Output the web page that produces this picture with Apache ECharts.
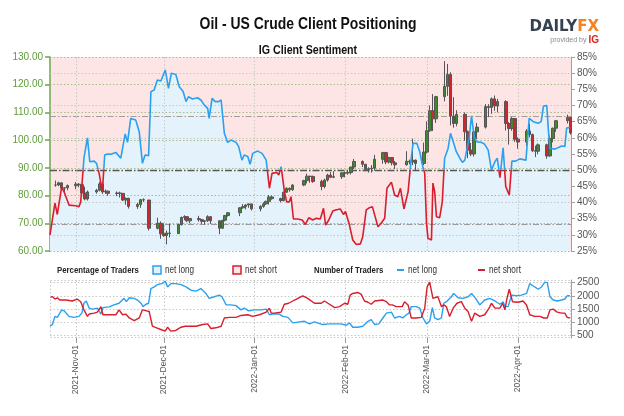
<!DOCTYPE html>
<html><head><meta charset="utf-8">
<script src="https://cdn.jsdelivr.net/npm/echarts@6/dist/echarts.min.js"></script>
<style>html,body{margin:0;padding:0;background:#fff}#c{width:624px;height:416px}</style>
</head><body><div id="c"></div>
<script>
// ---------- tick labels / axes ----------
const monthTickDays = [0, 30, 61, 92, 120, 151]; // days since 2021-11-01
const monthTickLabels = ['2021-Nov-01','2021-Dec-01','2022-Jan-01','2022-Feb-01','2022-Mar-01','2022-Apr-01'];
const countTicks = [500, 1000, 1500, 2000, 2500];

// ---------- price candles (Oil - US Crude) ----------
const candleDates = [
'2021-10-25','2021-10-26','2021-10-27','2021-10-28','2021-10-29',
'2021-11-01','2021-11-02','2021-11-03','2021-11-04','2021-11-05',
'2021-11-08','2021-11-09','2021-11-10','2021-11-11','2021-11-12',
'2021-11-15','2021-11-16','2021-11-17','2021-11-18','2021-11-19',
'2021-11-22','2021-11-23','2021-11-24','2021-11-26','2021-11-29','2021-11-30',
'2021-12-01','2021-12-02','2021-12-03','2021-12-06','2021-12-07','2021-12-08','2021-12-09','2021-12-10',
'2021-12-13','2021-12-14','2021-12-15','2021-12-16','2021-12-17','2021-12-20','2021-12-21','2021-12-22','2021-12-23',
'2021-12-27','2021-12-28','2021-12-29','2021-12-30','2021-12-31',
'2022-01-03','2022-01-04','2022-01-05','2022-01-06','2022-01-07','2022-01-10','2022-01-11','2022-01-12','2022-01-13','2022-01-14',
'2022-01-18','2022-01-19','2022-01-20','2022-01-21','2022-01-24','2022-01-25','2022-01-26','2022-01-27','2022-01-28','2022-01-31',
'2022-02-01','2022-02-02','2022-02-03','2022-02-04','2022-02-07','2022-02-08','2022-02-09','2022-02-10','2022-02-11',
'2022-02-14','2022-02-15','2022-02-16','2022-02-17','2022-02-18','2022-02-22','2022-02-23','2022-02-24','2022-02-25','2022-02-28',
'2022-03-01','2022-03-02','2022-03-03','2022-03-04','2022-03-07','2022-03-08','2022-03-09','2022-03-10','2022-03-11',
'2022-03-14','2022-03-15','2022-03-16','2022-03-17','2022-03-18','2022-03-21','2022-03-22','2022-03-23','2022-03-24','2022-03-25',
'2022-03-28','2022-03-29','2022-03-30','2022-03-31','2022-04-01','2022-04-04','2022-04-05','2022-04-06','2022-04-07','2022-04-08',
'2022-04-11','2022-04-12','2022-04-13','2022-04-14','2022-04-18','2022-04-19'];
const priceOpen = [83.8,83.8,84.6,82.7,82.8, 83.6,84.1,83.9,80.9,78.8, 81.3,81.9,84.2,81.3,81.6, 80.8,80.9,80.8,78.4,79.0,
 76.1,76.8,78.5,78.4,68.2,70.0, 66.2,65.6,66.5,66.3,69.5,72.1,72.4,70.9, 71.7,71.3,70.7,70.9,72.4,70.9,68.2,71.1,72.8,
 73.8,75.6,76.0,76.6,77.0, 75.2,76.1,77.0,77.9,79.5,78.9,78.2,81.2,82.6,82.1, 83.8,85.4,87.0,86.9,85.1,83.3,85.6,87.4,86.6,86.8,
 88.1,88.2,88.3,90.3,92.3,91.3,89.4,89.7,89.9, 93.1,95.5,92.1,93.7,91.8,91.1,92.4,92.1,92.8,91.6,
 95.7,103.4,110.6,107.7,115.7,119.4,123.7,108.7,106.0, 109.3,103.0,96.4,95.0,103.0,104.7,112.1,111.8,114.9,112.3,
 113.9,106.0,104.2,107.8,100.3,99.3,103.3,102.0,96.2,96.0, 98.3,94.3,100.6,104.3,107.0,108.2];
const priceHigh = [85.4,85.0,84.7,83.0,84.0, 84.9,84.5,83.9,83.2,81.8, 82.4,84.9,84.9,82.2,81.8, 81.5,81.4,80.8,79.3,79.2,
 77.4,78.8,79.0,78.4,72.0,70.7, 70.0,67.4,69.9,69.9,72.4,72.9,72.6,71.9, 72.7,71.5,71.0,72.9,72.4,70.9,71.2,73.0,74.0,
 75.7,76.9,76.9,77.1,77.0, 76.5,77.6,78.2,80.2,80.0,79.2,81.4,83.0,83.0,84.1, 85.7,87.9,87.0,87.2,85.7,86.1,87.9,88.5,88.8,88.4,
 88.7,89.0,90.4,93.2,92.7,91.4,90.2,91.0,94.7, 95.8,95.8,94.0,93.9,92.5,96.0,93.0,100.5,93.0,99.1,
 106.8,112.5,116.6,116.0,128.5,127.5,124.5,115.5,110.8, 110.0,103.5,99.0,103.3,106.2,113.0,113.0,115.4,116.1,114.9,
 114.4,106.5,108.3,108.0,101.0,104.0,105.9,102.4,98.0,98.8, 98.7,101.7,104.5,107.3,109.2,108.4];
const priceLow = [83.2,83.4,82.0,80.6,81.9, 82.3,83.0,80.0,78.3,78.2, 80.7,81.5,80.6,80.6,79.9, 79.8,79.3,78.0,76.7,75.3,
 75.2,75.6,77.7,67.4,67.8,64.4, 65.1,62.4,64.9,66.1,69.2,71.1,70.5,70.0, 70.6,69.8,69.5,70.5,69.8,66.1,68.0,70.7,72.4,
 72.6,75.3,75.0,75.6,74.6, 74.3,75.6,76.6,76.8,78.5,77.5,77.9,81.0,81.4,81.7, 83.4,84.4,84.6,84.6,81.9,82.6,85.0,86.3,86.3,86.0,
 86.6,87.5,87.6,89.6,90.3,88.8,88.3,88.3,89.0, 91.5,91.3,91.6,90.9,89.6,90.8,91.3,91.0,89.1,91.0,
 95.2,103.0,103.3,106.2,114.0,116.0,105.3,104.5,105.0, 99.8,93.5,94.2,94.1,100.4,104.2,108.3,109.5,110.6,110.0,
 103.5,98.4,103.4,99.4,96.9,97.9,101.0,95.7,93.9,94.9, 93.3,94.0,99.2,103.0,106.0,102.0];
const priceClose = [83.8,84.6,82.7,82.8,83.6, 84.1,83.9,80.9,78.8,81.3, 81.9,84.2,81.3,81.6,80.8, 80.9,80.8,78.4,79.0,76.1,
 76.8,78.5,78.4,68.2,70.0,66.2, 65.6,66.5,66.3,69.5,72.1,72.4,70.9,71.7, 71.3,70.7,70.9,72.4,70.9,68.2,71.1,72.8,73.8,
 75.6,76.0,76.6,77.0,75.2, 76.1,77.0,77.9,79.5,78.9,78.2,81.2,82.6,82.1,83.8, 85.4,87.0,86.9,85.1,83.3,85.6,87.4,86.6,86.8,88.2,
 88.2,88.3,90.3,92.3,91.3,89.4,89.7,89.9,93.1, 95.5,92.1,93.7,91.8,91.1,92.4,92.1,92.8,91.6,95.7,
 103.4,110.6,107.7,115.7,119.4,123.7,108.7,106.0,109.3, 103.0,96.4,95.0,103.0,104.7,112.1,111.8,114.9,112.3,113.9,
 106.0,104.2,107.8,100.3,99.3,103.3,102.0,96.2,96.0,98.3, 94.3,100.6,104.3,107.0,108.2,102.6];

// ---------- % of traders net long ----------
const pctDays = [-8.9,-8.3,-7.2,-6.4,-4.9,-4.1,-2.4,-0.1,1.0,1.6,
 2.7,3.9,4.7,6.2,7.0,7.9,9.0,9.8,10.7,11.9,
 13.6,15.3,16.8,17.6,18.7,20.4,21.6,22.7,23.6,24.8,
 25.6,26.7,27.8,29.0,30.5,31.6,32.6,34.1,35.3,36.6,
 37.6,38.4,39.8,41.5,42.7,43.8,45.0,45.5,46.5,47.6,
 48.7,49.6,50.7,51.8,53.0,54.7,55.6,56.7,57.5,58.7,
 59.5,60.4,62.1,63.6,65.0,66.1,67.0,68.6,69.3,70.1,
 71.2,72.0,72.9,73.5,74.3,75.8,77.3,78.4,79.6,80.9,
 82.1,83.5,84.6,85.3,86.4,87.8,88.7,90.3,91.4,92.1,
 93.3,94.6,95.8,97.2,98.0,99.2,100.3,101.3,102.1,103.2,
 104.3,105.5,106.3,107.8,108.9,110.0,110.9,112.1,113.5,114.6,
 115.2,116.5,117.5,118.4,119.2,119.8,120.3,121.5,122.0,122.6,
 123.2,124.3,125.2,126.0,127.2,128.0,129.1,130.0,131.2,132.1,
 132.9,134.4,135.2,136.1,136.9,138.6,139.7,140.9,142.0,143.2,
 144.0,144.9,146.0,146.9,148.1,149.0,150.3,151.7,153.8,154.9,
 156.3,158.0,159.0,159.8,160.9,161.5,162.0,163.7,166.0,167.1,167.7,168.3,168.8];
const pctLong = [30,30,39.8,36.3,44.9,43.3,39.2,39,38.7,40.2,
 53.7,60,52.6,52.8,52.1,49,43.3,54.7,55,54.9,
 55.5,53.7,61.2,58.6,66,65.5,61.9,52.1,54.7,54.5,
 74.3,74.8,77.9,77.6,81,75.3,80,79.6,75.8,74.3,
 71.2,72.7,72,72.4,71.7,70.2,69.1,66,72.2,71.2,
 71.2,71.7,61.4,58.6,59.3,58.6,57.3,53.1,54.7,54.2,
 51.8,55.2,55.9,55.2,53.1,44.4,49,49.3,48.5,51.1,
 43.6,40.2,40.2,41.8,34.9,34.9,34.6,33.2,35.3,34.6,
 35.1,34.9,38.2,33,34.6,37.4,37.7,38,36.3,37.2,
 33.6,28.4,27,27.2,29.4,37.7,38.4,38.7,36.1,32.5,
 33.6,35.1,44.4,46.3,42.3,41.8,44.4,38,43.3,53.7,
 58.3,58.3,55.7,51.6,49,33.6,28.9,28.4,46,43.3,
 35.6,35.3,40.2,53.7,56.8,61.4,58.3,55.7,53.7,52.4,
 53.1,60,66.8,60.4,58.8,58.6,58,56.2,50,52.6,
 53.7,47.7,56.9,44.9,42.3,52.8,52.8,53.5,53.1,66,
 65,64.5,65,69.8,70,62,56.8,56.5,57.5,57.3,63,63.5,63.3];
const pctLevels = [80, 70, 60, 40, 30];

// ---------- number of traders ----------
const longDays = [-8.9,-8.1,-7.2,-6.4,-4.9,-4.1,-2.4,-0.7,1.0,2.0,
 2.7,3.5,4.5,5.6,7.3,8.5,9.2,11.3,13.0,14.7,
 16.4,17.2,18.2,19.9,21.0,22.2,22.9,23.9,24.8,25.6,
 26.7,27.8,29.3,30.5,31.3,32.4,34.1,35.9,37.6,39.3,
 41.0,42.7,44.4,45.5,47.3,49.0,49.9,51.3,53.0,54.7,
 56.4,57.5,59.0,61.0,63.3,65.0,66.1,67.2,69.5,70.7,
 72.4,74.1,76.4,78.1,79.8,81.5,84.3,86.6,87.8,90.6,
 92.4,93.5,94.6,96.3,98.0,99.8,100.9,102.1,103.5,104.9,
 106.1,107.8,108.9,110.6,111.7,112.9,113.8,114.6,116.3,117.5,
 118.6,119.8,120.9,121.8,122.6,123.7,124.9,125.7,126.6,128.3,
 129.1,130.6,132.3,134.0,135.2,136.6,138.0,139.7,141.4,143.2,
 144.9,146.0,146.6,147.7,148.9,150.6,152.3,154.0,155.1,156.8,
 158.0,159.1,160.3,161.1,162.0,163.1,164.5,166.0,167.1,167.9,168.8];
const longCount = [847,910,1219,1182,1468,1431,1219,1182,1219,1345,
 1718,1804,1532,1494,1532,1308,1554,1580,1655,1718,
 1904,1777,1926,1904,1841,1718,1591,1680,1718,2277,
 2336,2426,2463,2548,2336,2463,2463,2426,2336,2213,
 2176,2277,2090,1904,1964,2027,1964,1655,1655,1629,
 1468,1532,1431,1468,1468,1494,1282,1308,1308,1219,
 1182,973,1010,1033,936,1010,910,936,936,936,
 884,973,809,809,847,1033,1096,910,936,1159,
 1345,1382,1159,1219,1159,1282,1345,1591,1591,1532,
 1159,936,1033,1554,1159,1096,1159,1718,1777,1964,
 2090,1926,1904,1964,2090,1904,1655,1841,1904,1804,
 1680,1777,1591,1591,2027,2001,2027,2090,2463,2336,
 2250,2336,2522,2500,1964,1841,1804,1841,1878,2001,2001];
const shortDays = [-8.9,-8.1,-7.2,-6.4,-5.6,-3.5,-1.3,0.4,1.6,2.7,
 3.9,4.5,6.2,7.3,8.5,9.2,11.3,13.6,14.7,15.9,
 17.0,18.2,19.9,21.6,22.7,24.1,25.0,26.1,27.5,29.0,
 30.5,31.3,32.4,34.1,35.9,37.3,38.7,41.0,43.3,45.0,
 46.1,47.8,49.6,50.7,52.4,54.7,56.4,58.7,60.4,62.7,
 65.0,66.1,66.7,67.8,70.1,71.2,72.7,74.7,77.5,79.2,
 81.5,83.8,84.9,86.1,88.4,90.1,91.8,92.9,93.7,94.6,
 96.3,97.5,98.6,99.8,100.9,102.1,104.9,106.1,107.2,108.1,
 109.5,111.5,112.3,113.5,114.6,116.3,118.0,119.2,120.0,120.9,
 122.0,123.7,124.9,125.7,126.6,127.7,128.9,130.2,131.7,132.9,
 134.0,135.2,136.3,138.0,139.7,141.2,142.0,143.2,144.9,145.8,
 146.6,147.2,148.1,149.2,151.1,152.8,154.0,155.1,156.8,158.6,
 159.9,161.1,162.0,163.1,164.5,166.0,167.1,167.9,168.8];
const shortCount = [1964,1964,1878,1926,1841,1841,1804,1878,1777,1468,
 1219,1308,1345,1382,1591,1282,1282,1282,1468,1282,
 1308,1159,1059,1159,1468,1431,1405,847,787,723,
 660,809,660,686,809,847,847,847,910,936,
 761,787,847,1159,1182,1182,1256,1282,1219,1282,
 1382,1532,1345,1345,1382,1680,1718,1841,2001,1904,
 1718,1718,1804,1718,1554,1591,1718,1680,2027,2090,
 2127,2053,1804,1755,1680,1804,1841,1777,1655,1655,
 1591,1591,1777,1655,1159,1159,1182,1532,2336,2522,
 1904,1964,1591,1655,1591,1219,1532,1718,1777,1532,
 1405,1033,1345,1219,1282,1532,1718,1532,1532,1718,
 1468,1841,2250,1777,1755,1804,1655,1282,1219,1219,
 1159,1159,1468,1494,1382,1345,1345,1182,1159];

// ---------- build ----------
const FONT = "'Liberation Sans',Arial,sans-serif";
const NARROW = 0.82;
const BLUE = '#2aa0ee', RED = '#d81e2c';
const ORIGIN = Date.UTC(2021, 10, 1);
function dayOf(s){ const p = s.split('-'); return (Date.UTC(+p[0], +p[1]-1, +p[2]) - ORIGIN) / 864e5; }
const zip = (a, b) => a.map((v, i) => [v, b[i]]);
const candleData = candleDates.map((d, i) => [dayOf(d), priceOpen[i], priceClose[i], priceLow[i], priceHigh[i]]);
const X_MIN = -8.9, X_MAX = 169.2;
const PRICE_MIN = 60, PRICE_MAX = 130, PRICE_STEP = 10;
const priceGrid = [];
for (let v = PRICE_MIN; v <= PRICE_MAX; v += PRICE_STEP) priceGrid.push(v);

const dotGray = {color:'#c8c8c8', type:[1.5,2], width:1};
const dotGreen = {color:'#a8bb8a', type:[1.5,2], width:1};
const mlBase = {silent:true, symbol:['none','none'], label:{show:false}, animation:false, emphasis:{disabled:true}};
function ntext(x, y, text, font, fill, align){
  return {type:'text', x:x, y:y, scaleX:NARROW, z:20,
    style:{text:text, font:font, fill:fill, align:align || 'left', verticalAlign:'middle'}};
}

const chart = echarts.init(document.getElementById('c'), null, {renderer:'canvas'});
chart.setOption({
  animation:false,
  textStyle:{fontFamily:FONT},
  grid:[
    {left:50, top:57, width:521, height:194, show:true, backgroundColor:'#fde5e6', borderWidth:0},
    {left:50, top:280, width:521, height:58}
  ],
  xAxis:[
    {gridIndex:0, type:'value', min:X_MIN, max:X_MAX, show:false, splitLine:{show:false}},
    {gridIndex:1, type:'value', min:X_MIN, max:X_MAX, splitLine:{show:false},
     axisLine:{show:false, onZero:false},
     axisTick:{show:true, customValues:monthTickDays, length:5, lineStyle:{color:'#9a9a9a'}},
     axisLabel:{customValues:monthTickDays, rotate:90, margin:7, fontSize:8.5, color:'#555', fontFamily:FONT,
       formatter:v => { const i = monthTickDays.indexOf(Math.round(v)); return i >= 0 ? monthTickLabels[i] : ''; }}}
  ],
  yAxis:[
    {gridIndex:0, type:'value', position:'left', min:PRICE_MIN, max:PRICE_MAX, interval:PRICE_STEP,
     splitLine:{show:false},
     axisLine:{show:true, onZero:false, lineStyle:{color:'#6aa84f', width:1.5}},
     axisTick:{show:true, length:5, lineStyle:{color:'#6aa84f', width:1.5}},
     axisLabel:{color:'#5f9c3a', fontSize:10, margin:7, fontFamily:FONT, formatter:v => v.toFixed(2)}},
    {gridIndex:0, type:'value', position:'right', min:25, max:85, interval:5,
     splitLine:{show:false},
     axisLine:{show:true, onZero:false, lineStyle:{color:'#a0a0a0'}},
     axisTick:{show:true, length:4, lineStyle:{color:'#a0a0a0'}},
     axisLabel:{color:'#555', fontSize:10, margin:6, fontFamily:FONT, formatter:'{value}%'}},
    {gridIndex:1, type:'value', position:'right', min:400, max:2600,
     splitLine:{show:false},
     axisLine:{show:true, onZero:false, lineStyle:{color:'#a0a0a0'}},
     axisTick:{show:true, length:4, customValues:countTicks, lineStyle:{color:'#a0a0a0'}},
     axisLabel:{customValues:countTicks, color:'#555', fontSize:10, margin:6, fontFamily:FONT, formatter:v => String(v)}}
  ],
  visualMap:[{show:false, type:'piecewise', seriesIndex:2, dimension:1,
    pieces:[{min:0, max:50, color:RED}, {min:50, max:100, color:BLUE}]}],
  series:[
    {name:'area', type:'line', xAxisIndex:0, yAxisIndex:1, data:zip(pctDays, pctLong), symbol:'none', silent:true, z:1,
     lineStyle:{width:0}, areaStyle:{color:'#e4f2fc', opacity:1, origin:'start'},
     markLine:Object.assign({}, mlBase, {z:2, data:[
       ...pctLevels.map(v => ({yAxis:v, lineStyle:dotGray})),
       {yAxis:200/3, lineStyle:{color:'#a89a9a', type:[6,2,1.5,2], width:1.2}},
       {yAxis:100/3, lineStyle:{color:'#9a9a9a', type:[6,2,1.5,2], width:1.2}},
       {yAxis:50, lineStyle:{color:'#555', type:[7,2,1.5,2], width:1.3}}
     ]})},
    {name:'price', type:'candlestick', xAxisIndex:0, yAxisIndex:0, data:candleData, encode:{x:0, y:[1,2,3,4]},
     barWidth:3, z:3, silent:true,
     itemStyle:{color:'#3d8a2c', color0:'#d0262f', borderColor:'#555', borderColor0:'#555', borderWidth:1},
     markLine:Object.assign({}, mlBase, {z:2, data:[
       ...priceGrid.map(v => ({yAxis:v, lineStyle:dotGreen})),
       ...monthTickDays.map(d => ({xAxis:d, lineStyle:dotGray}))
     ]})},
    {name:'pct', type:'line', xAxisIndex:0, yAxisIndex:1, data:zip(pctDays, pctLong), symbol:'none', silent:true, z:4,
     lineStyle:{width:1.6}},
    {name:'long', type:'line', xAxisIndex:1, yAxisIndex:2, data:zip(longDays, longCount), symbol:'none', silent:true, z:4,
     lineStyle:{width:1.4, color:BLUE}, itemStyle:{color:BLUE},
     markLine:Object.assign({}, mlBase, {z:2, data:[
       ...countTicks.map(v => ({yAxis:v, lineStyle:dotGray})),
       ...monthTickDays.map(d => ({xAxis:d, lineStyle:dotGray}))
     ]})},
    {name:'short', type:'line', xAxisIndex:1, yAxisIndex:2, data:zip(shortDays, shortCount), symbol:'none', silent:true, z:4,
     lineStyle:{width:1.4, color:RED}, itemStyle:{color:RED}}
  ],
  graphic:[
    {type:'rect', z:10, shape:{x:50.5, y:280.5, width:520, height:57}, style:{fill:'none', stroke:'#c8c8c8', lineDash:[1.5,2]}},
    ntext(308, 24, 'Oil - US Crude Client Positioning', 'bold 17px ' + FONT, '#111', 'center'),
    ntext(308, 50, 'IG Client Sentiment', 'bold 13px ' + FONT, '#111', 'center'),
    {type:'text', x:599, y:27, style:{text:'{a|DAILY}{b|FX}', align:'right', verticalAlign:'middle',
      rich:{a:{fontSize:15, fontWeight:'bold', fill:'#34414f', fontFamily:'DejaVu Sans'}, b:{fontSize:15, fontWeight:'bold', fill:'#f58220', fontFamily:'DejaVu Sans'}}}},
    {type:'text', x:599, y:40, style:{text:'{a|provided by }{b|IG}', align:'right', verticalAlign:'middle',
      rich:{a:{fontSize:7, fill:'#888', fontFamily:FONT}, b:{fontSize:10, fontWeight:'bold', fill:'#e2231a', fontFamily:FONT}}}},
    ntext(57, 270, 'Percentage of Traders', 'bold 9.5px ' + FONT, '#222'),
    {type:'rect', shape:{x:153, y:266, width:8, height:8}, style:{fill:'#e4f2fc', stroke:BLUE, lineWidth:1.5}},
    ntext(165, 270, 'net long', '10px ' + FONT, '#333'),
    {type:'rect', shape:{x:233, y:266, width:8, height:8}, style:{fill:'#fde5e6', stroke:RED, lineWidth:1.5}},
    ntext(245, 270, 'net short', '10px ' + FONT, '#333'),
    ntext(314, 270, 'Number of Traders', 'bold 9.5px ' + FONT, '#222'),
    {type:'line', shape:{x1:397, y1:270, x2:404, y2:270}, style:{stroke:BLUE, lineWidth:2}},
    ntext(408, 270, 'net long', '10px ' + FONT, '#333'),
    {type:'line', shape:{x1:478, y1:270, x2:485, y2:270}, style:{stroke:RED, lineWidth:2}},
    ntext(489, 270, 'net short', '10px ' + FONT, '#333')
  ]
});
</script>
</body></html>
